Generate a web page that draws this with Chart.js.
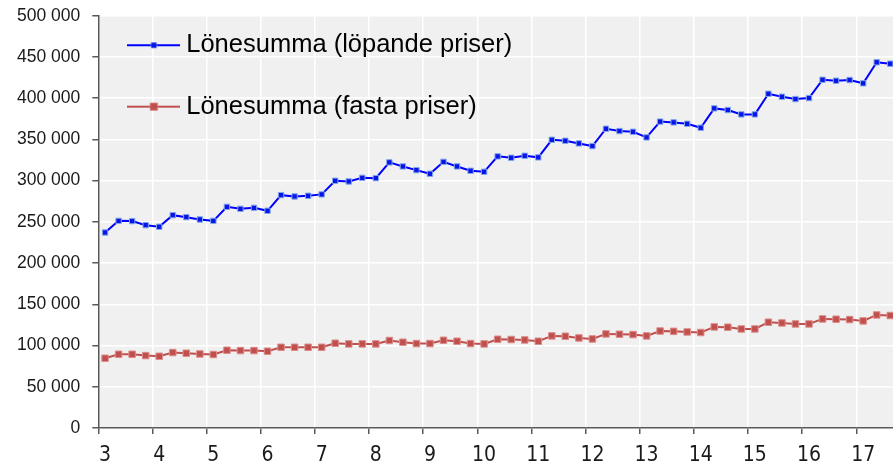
<!DOCTYPE html>
<html><head><meta charset="utf-8">
<script src="https://cdn.jsdelivr.net/npm/chart.js@4/dist/chart.umd.min.js"></script>
<style>
html,body{margin:0;padding:0;background:#fff;overflow:hidden;width:893px;height:468px}
#c{position:absolute;left:0;top:0;width:897px;height:468px;max-width:none}
</style></head>
<body><canvas id="c" width="897" height="468"></canvas>
<script>
// Quarterly categories 2003K1 .. 2017K3
const quarters = [
 '2003K1','2003K2','2003K3','2003K4','2004K1','2004K2','2004K3','2004K4',
 '2005K1','2005K2','2005K3','2005K4','2006K1','2006K2','2006K3','2006K4',
 '2007K1','2007K2','2007K3','2007K4','2008K1','2008K2','2008K3','2008K4',
 '2009K1','2009K2','2009K3','2009K4','2010K1','2010K2','2010K3','2010K4',
 '2011K1','2011K2','2011K3','2011K4','2012K1','2012K2','2012K3','2012K4',
 '2013K1','2013K2','2013K3','2013K4','2014K1','2014K2','2014K3','2014K4',
 '2015K1','2015K2','2015K3','2015K4','2016K1','2016K2','2016K3','2016K4',
 '2017K1','2017K2','2017K3'
];
const yearTicks = ['3','4','5','6','7','8','9','10','11','12','13','14','15','16','17'];
const seriesNames = ['Lönesumma (löpande priser)', 'Lönesumma (fasta priser)'];
const lonesummaLopande = [
 237100,251200,250900,246000, 244000,258100,255700,252900,
 251200,268200,265800,267000, 263400,282400,280800,281600,
 283300,299800,299000,303400, 303000,322100,317200,312700,
 308300,322800,317200,311900, 310700,329400,327700,330100,
 328200,349500,348300,345100, 341900,362900,360100,359200,
 352400,371600,370600,368900, 364100,387600,385600,380300,
 380300,405300,401700,398900, 400100,422300,421100,422000,
 418000,443500,441800
];
const lonesummaFasta = [
 84600,89400,89400,87800, 87000,91500,90700,89800,
 89100,94300,93900,93900, 93100,97900,97900,97900,
 97900,102800,102000,102000, 102000,106100,104000,102400,
 102400,106400,105200,102400, 102000,107600,107300,106800,
 105200,111700,111300,109200, 108000,114100,113700,113300,
 111700,117600,117200,116500, 115800,122600,122200,120100,
 120100,128300,127400,126200, 126200,132300,131900,131500,
 129900,137100,136400
];
const yTicks = {min: 0, max: 500000, step: 50000};

const BLUE = '#0000ff', BLUE_MARK = '#0a14e6', BLUE_EDGE = '#7fa8ea';
const RED = '#c0504d', RED_EDGE = '#dc8e8c';

function legendIcon(lineColor, fill, edge, side) {
  const cv = document.createElement('canvas');
  cv.width = 53; cv.height = 12;
  const g = cv.getContext('2d');
  g.strokeStyle = lineColor; g.lineWidth = 2;
  g.beginPath(); g.moveTo(0, 6); g.lineTo(53, 6); g.stroke();
  g.fillStyle = edge; g.fillRect(26.5 - side/2 - 0.5, 6 - side/2 - 0.5, side + 1, side + 1);
  g.fillStyle = fill; g.fillRect(26.5 - side/2, 6 - side/2, side, side);
  return cv;
}
const icons = [legendIcon(BLUE, BLUE_MARK, BLUE_EDGE, 5), legendIcon(RED, RED, RED_EDGE, 7)];

const plotBg = {
  id: 'plotBg',
  beforeDraw(chart) {
    const {ctx, chartArea: a} = chart;
    ctx.save(); ctx.fillStyle = '#f0f0f0';
    ctx.fillRect(a.left, a.top, a.right - a.left, a.bottom - a.top);
    ctx.restore();
  }
};
const legendLift = {
  id: 'legendLift',
  afterLayout(chart) { if (chart.legend) { chart.legend.top -= 3.4; chart.legend.bottom -= 3.4; } }
};

const fmt = v => String(v).replace(/\B(?=(\d{3})+(?!\d))/g, ' ');

new Chart(document.getElementById('c'), {
  type: 'line',
  data: {
    labels: quarters,
    datasets: [
      {label: seriesNames[0], data: lonesummaLopande, borderColor: BLUE, borderWidth: 2,
       pointStyle: 'rect', pointRadius: 3.8, pointBackgroundColor: BLUE_MARK,
       pointBorderColor: BLUE_EDGE, pointBorderWidth: 1, tension: 0},
      {label: seriesNames[1], data: lonesummaFasta, borderColor: RED, borderWidth: 2,
       pointStyle: 'rect', pointRadius: 4.6, pointBackgroundColor: RED,
       pointBorderColor: RED_EDGE, pointBorderWidth: 1, tension: 0}
    ]
  },
  options: {
    responsive: false, animation: false, devicePixelRatio: 1,
    layout: {autoPadding: false, padding: {top: 15.7, right: 0, bottom: 0, left: 0}},
    plugins: {
      tooltip: {enabled: false},
      legend: {
        position: 'chartArea', align: 'start',
        labels: {
          usePointStyle: true, pointStyleWidth: 39.3, padding: 35.9, color: '#000',
          font: {family: "'Liberation Sans', Arial, sans-serif", size: 25.5},
          generateLabels(chart) {
            const items = Chart.defaults.plugins.legend.labels.generateLabels(chart);
            items.forEach((it, i) => { it.pointStyle = icons[i]; });
            return items;
          }
        }
      }
    },
    scales: {
      x: {
        type: 'category', offset: true,
        afterFit(scale) { scale.height = 40; scale.paddingLeft = 0; scale.paddingRight = 0; },
        grid: {
          offset: true, lineWidth: 1.5, tickLength: 6, tickWidth: 1.5,
          color: c => (c.index % 4 === 0 ? '#ffffff' : 'rgba(0,0,0,0)'),
          tickColor: c => (c.index % 4 === 0 ? '#595959' : 'rgba(0,0,0,0)')
        },
        border: {color: '#595959', width: 1.5},
        ticks: {
          autoSkip: false, maxRotation: 0, minRotation: 0, padding: 9, color: '#1a1a1a',
          font: {family: "'Liberation Sans Narrow', 'DejaVu Sans Condensed', sans-serif", size: 21},
          callback: (v, i) => (i % 4 === 0 ? yearTicks[i / 4] : '')
        }
      },
      y: {
        min: yTicks.min, max: yTicks.max,
        afterFit(scale) { scale.width = 98.3; scale.paddingTop = 0; scale.paddingBottom = 0; },
        grid: {color: '#ffffff', lineWidth: 1.5, tickLength: 6, tickWidth: 1.5, tickColor: '#595959'},
        border: {color: '#595959', width: 1.5},
        ticks: {
          stepSize: yTicks.step, padding: 12, color: '#1a1a1a',
          font: {family: "'Liberation Sans', Arial, sans-serif", size: 17.5},
          callback: v => fmt(v)
        }
      }
    }
  },
  plugins: [plotBg, legendLift]
});
</script>
</body></html>
